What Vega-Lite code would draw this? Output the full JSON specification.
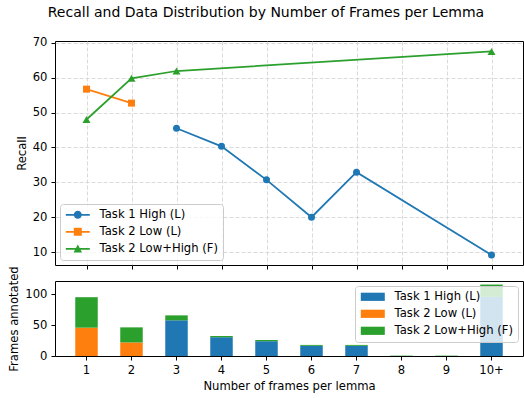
{
  "$schema": "https://vega.github.io/schema/vega-lite/v6.json",
  "background": "white",
  "padding": {"left": 8, "right": 1, "top": 6, "bottom": 4},
  "title": {"text": "Recall and Data Distribution by Number of Frames per Lemma", "fontSize": 14, "fontWeight": "normal", "font": "DejaVu Sans", "color": "black", "anchor": "middle", "offset": 16},
  "bounds": "flush",
  "spacing": 16,
  "config": {
    "font": "DejaVu Sans",
    "view": {"stroke": "black", "strokeWidth": 1},
    "axis": {"labelFont": "DejaVu Sans", "labelFontSize": 11.6, "labelColor": "black", "titleFont": "DejaVu Sans", "titleFontSize": 11.6, "titleFontWeight": "normal", "titleColor": "black", "tickColor": "black", "tickSize": 4, "labelPadding": 4, "titlePadding": 5, "domain": false, "gridColor": "#d0d0d0", "gridDash": [4, 2], "gridWidth": 0.8},
    "legend": {"labelFontSize": 11.6, "labelFont": "DejaVu Sans", "labelColor": "black", "labelLimit": 0}
  },
  "datasets": {
    "recall": [
      {"series": "Task 1 High (L)", "frames": "3", "recall": 45.5},
      {"series": "Task 1 High (L)", "frames": "4", "recall": 40.3},
      {"series": "Task 1 High (L)", "frames": "5", "recall": 30.7},
      {"series": "Task 1 High (L)", "frames": "6", "recall": 20.0},
      {"series": "Task 1 High (L)", "frames": "7", "recall": 32.9},
      {"series": "Task 1 High (L)", "frames": "10+", "recall": 9.2},
      {"series": "Task 2 Low (L)", "frames": "1", "recall": 56.7},
      {"series": "Task 2 Low (L)", "frames": "2", "recall": 52.7},
      {"series": "Task 2 Low+High (F)", "frames": "1", "recall": 48.0},
      {"series": "Task 2 Low+High (F)", "frames": "2", "recall": 59.8},
      {"series": "Task 2 Low+High (F)", "frames": "3", "recall": 61.9},
      {"series": "Task 2 Low+High (F)", "frames": "10+", "recall": 67.5}
    ],
    "counts": [
      {"series": "Task 2 Low (L)", "frames": "1", "count": 46},
      {"series": "Task 2 Low+High (F)", "frames": "1", "count": 49.5},
      {"series": "Task 2 Low (L)", "frames": "2", "count": 22},
      {"series": "Task 2 Low+High (F)", "frames": "2", "count": 24.5},
      {"series": "Task 1 High (L)", "frames": "3", "count": 58},
      {"series": "Task 2 Low+High (F)", "frames": "3", "count": 8},
      {"series": "Task 1 High (L)", "frames": "4", "count": 30.5},
      {"series": "Task 2 Low+High (F)", "frames": "4", "count": 2},
      {"series": "Task 1 High (L)", "frames": "5", "count": 24},
      {"series": "Task 2 Low+High (F)", "frames": "5", "count": 2},
      {"series": "Task 1 High (L)", "frames": "6", "count": 16.5},
      {"series": "Task 2 Low+High (F)", "frames": "6", "count": 1.5},
      {"series": "Task 1 High (L)", "frames": "7", "count": 16.5},
      {"series": "Task 2 Low+High (F)", "frames": "7", "count": 1.5},
      {"series": "Task 2 Low+High (F)", "frames": "8", "count": 0.6},
      {"series": "Task 2 Low+High (F)", "frames": "9", "count": 0.6},
      {"series": "Task 1 High (L)", "frames": "10+", "count": 96},
      {"series": "Task 2 Low+High (F)", "frames": "10+", "count": 20}
    ]
  },
  "vconcat": [
    {
      "width": 468,
      "height": 224,
      "data": {"name": "recall"},
      "encoding": {
        "x": {"field": "frames", "type": "ordinal", "sort": ["1", "2", "3", "4", "5", "6", "7", "8", "9", "10+"], "scale": {"type": "point", "domain": ["1", "2", "3", "4", "5", "6", "7", "8", "9", "10+"], "padding": 0.7}, "axis": {"title": null, "labels": false, "grid": true, "ticks": true}},
        "y": {"field": "recall", "type": "quantitative", "scale": {"domain": [6.3, 70.5], "nice": false, "zero": false}, "axis": {"title": "Recall", "values": [10, 20, 30, 40, 50, 60, 70], "grid": true}}
      },
      "layer": [
        {
          "transform": [{"filter": "datum.series === 'Task 1 High (L)'"}],
          "mark": {"type": "line", "color": "#1f77b4", "strokeWidth": 1.75, "point": {"shape": "circle", "filled": true, "size": 49, "opacity": 1, "color": "#1f77b4"}}
        },
        {
          "transform": [{"filter": "datum.series === 'Task 2 Low (L)'"}],
          "mark": {"type": "line", "color": "#ff7f0e", "strokeWidth": 1.75, "point": {"shape": "square", "filled": true, "size": 49, "opacity": 1, "color": "#ff7f0e"}}
        },
        {
          "transform": [{"filter": "datum.series === 'Task 2 Low+High (F)'"}],
          "mark": {"type": "line", "color": "#2ca02c", "strokeWidth": 1.75, "point": {"shape": "triangle-up", "filled": true, "size": 64, "opacity": 1, "color": "#2ca02c"}}
        },
        {
          "transform": [{"filter": "false"}],
          "mark": {"type": "point", "filled": true, "opacity": 1},
          "encoding": {
            "color": {"field": "series", "type": "nominal", "scale": {"domain": ["Task 1 High (L)", "Task 2 Low (L)", "Task 2 Low+High (F)"], "range": ["#1f77b4", "#ff7f0e", "#2ca02c"]}, "legend": {"title": null, "orient": "bottom-left", "offset": 5, "symbolSize": 100, "symbolStrokeWidth": 0, "symbolOffset": 7, "labelOffset": 16, "labelFontSize": 11.6, "labelFont": "DejaVu Sans", "labelColor": "black", "labelLimit": 0, "rowPadding": 4, "padding": 5, "fillColor": "rgba(255,255,255,0.8)", "strokeColor": "#cccccc", "cornerRadius": 3, "zindex": 1}},
            "shape": {"field": "series", "type": "nominal", "scale": {"domain": ["Task 1 High (L)", "Task 2 Low (L)", "Task 2 Low+High (F)"], "range": [
              "M-2.4,-0.175H2.4V0.175H-2.4Z M0.8,0L0.739,0.306L0.566,0.566L0.306,0.739L0,0.8L-0.306,0.739L-0.566,0.566L-0.739,0.306L-0.8,0L-0.739,-0.306L-0.566,-0.566L-0.306,-0.739L0,-0.8L0.306,-0.739L0.566,-0.566L0.739,-0.306Z",
              "M-2.4,-0.175H2.4V0.175H-2.4Z M-0.8,-0.8H0.8V0.8H-0.8Z",
              "M-2.4,-0.175H2.4V0.175H-2.4Z M0,-0.85L0.85,0.75H-0.85Z"
            ]}, "legend": {"title": null, "orient": "bottom-left", "offset": 5, "symbolSize": 100, "symbolStrokeWidth": 0, "symbolOffset": 7, "labelOffset": 16, "labelFontSize": 11.6, "labelFont": "DejaVu Sans", "labelColor": "black", "labelLimit": 0, "rowPadding": 4, "padding": 5, "fillColor": "rgba(255,255,255,0.8)", "strokeColor": "#cccccc", "cornerRadius": 3, "zindex": 1}}
          }
        }
      ]
    },
    {
      "width": 468,
      "height": 75,
      "data": {"name": "counts"},
      "mark": {"type": "bar"},
      "encoding": {
        "x": {"field": "frames", "type": "ordinal", "sort": ["1", "2", "3", "4", "5", "6", "7", "8", "9", "10+"], "scale": {"type": "band", "domain": ["1", "2", "3", "4", "5", "6", "7", "8", "9", "10+"], "paddingInner": 0.5, "paddingOuter": 0.45}, "axis": {"title": "Number of frames per lemma", "labelAngle": 0, "grid": false}},
        "y": {"field": "count", "type": "quantitative", "stack": "zero", "scale": {"domain": [0, 121.8], "nice": false}, "axis": {"title": "Frames annotated", "values": [0, 50, 100], "grid": false}},
        "color": {"field": "series", "type": "nominal", "scale": {"domain": ["Task 1 High (L)", "Task 2 Low (L)", "Task 2 Low+High (F)"], "range": ["#1f77b4", "#ff7f0e", "#2ca02c"]}, "legend": {"title": null, "orient": "top-right", "offset": 5, "symbolType": "M-2.4,-0.82H2.4V0.82H-2.4Z", "symbolSize": 100, "symbolStrokeWidth": 0, "symbolOffset": 7, "labelOffset": 16, "labelFontSize": 11.6, "labelFont": "DejaVu Sans", "labelColor": "black", "labelLimit": 0, "rowPadding": 4, "padding": 5, "fillColor": "rgba(255,255,255,0.8)", "strokeColor": "#cccccc", "cornerRadius": 3, "zindex": 1}},
        "order": {"field": "series", "sort": "ascending"}
      }
    }
  ],
  "resolve": {"scale": {"color": "independent", "shape": "independent", "x": "independent", "y": "independent"}, "legend": {"color": "independent", "shape": "independent"}}
}
